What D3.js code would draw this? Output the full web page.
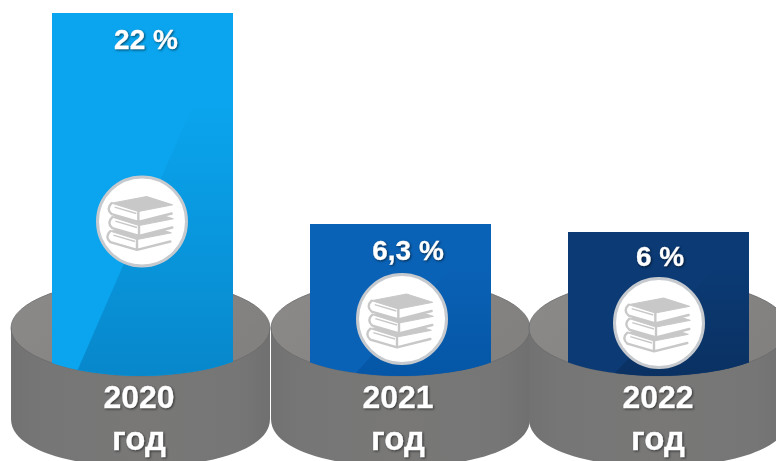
<!DOCTYPE html>
<html><head><meta charset="utf-8">
<script src="https://cdnjs.cloudflare.com/ajax/libs/d3/7.8.5/d3.min.js"></script>
<style>
html,body{margin:0;padding:0;background:#fff;overflow:hidden}
svg{display:block}
text{font-family:"Liberation Sans",Arial,sans-serif;font-weight:700;fill:#fff;stroke:#fff;stroke-width:.3px;text-anchor:middle;filter:drop-shadow(1px 1.5px 1px rgba(0,0,0,.55))}
</style></head><body>
<script>
const years = ["2020","2021","2022"];
const values = [22, 6.3, 6];
const valueLabels = ["22 %","6,3 %","6 %"];
const unitLabel = "год";
const palette = [
  {light:"#0aa5ee", bottom:"#0887cb"},
  {light:"#0a62b6", bottom:"#0556a6"},
  {light:"#0b3a74", bottom:"#0a3162"}
];

const W=776,H=461;
const svg=d3.select("body").append("svg").attr("width",W).attr("height",H);
const defs=svg.append("defs");

const x=d3.scaleBand().domain(years).range([52,749]).paddingInner(77/258).paddingOuter(0);
// The picture's bar heights are not proportional; this reads them off the drawing.
const y=d3.scaleLinear().domain([6,6.3,22]).range([232,224,13]);

const cx=d=>x(d)+x.bandwidth()/2;
const RX=129.5,RY=48,RIM=328,BODY=91;
const offs=[-2,0,0];

const g=svg.selectAll("g.col").data(years.map((yr,i)=>({yr,i,v:values[i],lab:valueLabels[i]}))).join("g").attr("class","col");

defs.append("linearGradient").attr("id","body").attr("x1",0).attr("x2",1).attr("y1",0).attr("y2",0)
 .selectAll("stop").data([[0,"#727272"],[.12,"#767676"],[.5,"#797877"],[.88,"#767676"],[1,"#707070"]]).join("stop")
 .attr("offset",d=>d[0]).attr("stop-color",d=>d[1]);
defs.append("linearGradient").attr("id","topface").attr("x1",0).attr("x2",1).attr("y1",0).attr("y2",.4)
 .selectAll("stop").data([[0,"#8b8a89"],[1,"#828180"]]).join("stop")
 .attr("offset",d=>d[0]).attr("stop-color",d=>d[1]);
palette.forEach((p,i)=>{
  defs.append("linearGradient").attr("id","g"+i).attr("x1",0).attr("x2",0).attr("y1",0).attr("y2",1)
   .selectAll("stop").data([[0,p.light],[.25,p.light],[1,p.bottom]]).join("stop").attr("offset",d=>d[0]).attr("stop-color",d=>d[1]);
  const c=cx(years[i])+offs[i];
  const cp=defs.append("clipPath").attr("id","c"+i);
  cp.append("rect").attr("x",0).attr("y",0).attr("width",W).attr("height",RIM);
  cp.append("ellipse").attr("cx",c).attr("cy",RIM).attr("rx",RX).attr("ry",RY);
});

const facetStart=[23,43,44];

// cylinders
g.each(function(d){
  const s=d3.select(this),c=cx(d.yr)+offs[d.i];
  const p=d3.path();
  p.moveTo(c-RX,RIM);p.lineTo(c-RX,RIM+BODY);
  p.bezierCurveTo(c-RX,RIM+BODY+RY*1.33,c+RX,RIM+BODY+RY*1.33,c+RX,RIM+BODY);
  p.lineTo(c+RX,RIM);p.closePath();
  s.append("path").attr("d",p.toString()).attr("fill","url(#body)");
  s.append("ellipse").attr("cx",c).attr("cy",RIM).attr("rx",RX).attr("ry",RY)
    .attr("fill","url(#topface)").attr("stroke","#6b6a69").attr("stroke-width",.8);

  // bar
  const top=y(d.v),xl=x(d.yr),bw=x.bandwidth(),base=RIM+RY;
  const bar=s.append("g").attr("clip-path",`url(#c${d.i})`);
  bar.append("rect").attr("x",xl).attr("y",top).attr("width",bw).attr("height",base-top).attr("fill",palette[d.i].light);
  // diagonal darker facet: bottom edge up to the top-right corner
  const f=d3.path();
  f.moveTo(xl+facetStart[d.i],base);f.lineTo(xl+bw,top);f.lineTo(xl+bw,base);f.closePath();
  bar.append("path").attr("d",f.toString()).attr("fill",`url(#g${d.i})`);
});

// icons
const iconY=[221.5,319,323], iconX=[142,402,659];
const G="#c8c8c8";
function book(sel,oy,ox){
  const P=(a,b)=>[(a+ox)/3,(b+oy)/3];
  const A=P(-91,-55),B=P(14,-75),C=P(92,-50),D=P(-11,-30),
        A2=P(-91,-22),D2=P(-11,1),C2=P(89,-24);
  const page=d3.path();
  page.moveTo(...A);page.lineTo(...A2);page.lineTo(...D2);page.lineTo(...C2);page.lineTo(...C);page.closePath();
  sel.append("path").attr("d",page.toString()).attr("fill","#fff");
  const cov=d3.path();
  cov.moveTo(...A);cov.lineTo(...B);cov.lineTo(...C);cov.lineTo(...D);cov.closePath();
  sel.append("path").attr("d",cov.toString()).attr("fill",G).attr("stroke",G).attr("stroke-width",1).attr("stroke-linejoin","round");
  const edge=d3.path();
  edge.moveTo(...A);edge.quadraticCurveTo(A[0]-6,(A[1]+A2[1])/2,...A2);
  edge.lineTo(...D2);edge.lineTo(...C2);
  edge.moveTo(...D);edge.lineTo(...D2);
  sel.append("path").attr("d",edge.toString()).attr("fill","none").attr("stroke",G).attr("stroke-width",2.4).attr("stroke-linejoin","round").attr("stroke-linecap","round");
  const l=d3.path();
  l.moveTo(A[0]+3,A[1]+4);l.lineTo(D[0]-2,D[1]+2);
  sel.append("path").attr("d",l.toString()).attr("fill","none").attr("stroke",G).attr("stroke-width",1.4);
}
g.each(function(d){
  const s=d3.select(this).append("g").attr("transform",`translate(${iconX[d.i]},${iconY[d.i]})`);
  s.append("circle").attr("r",44.5).attr("fill","#fff").attr("stroke","#c6c9cd").attr("stroke-width",3);
  book(s,84,-4);
  book(s,42,2);
  book(s,0,0);
});

// labels
const valY=[49,260,266], valX=[146,408,660];
g.append("text").attr("x",d=>valX[d.i]).attr("y",d=>valY[d.i]).attr("font-size",28).text(d=>d.lab);
const yrX=[139,398,658];
g.append("text").attr("x",d=>yrX[d.i]).attr("y",408).attr("font-size",32).text(d=>d.yr);
g.append("text").attr("x",d=>yrX[d.i]).attr("y",450).attr("font-size",33).text(unitLabel);
</script>
</body></html>
